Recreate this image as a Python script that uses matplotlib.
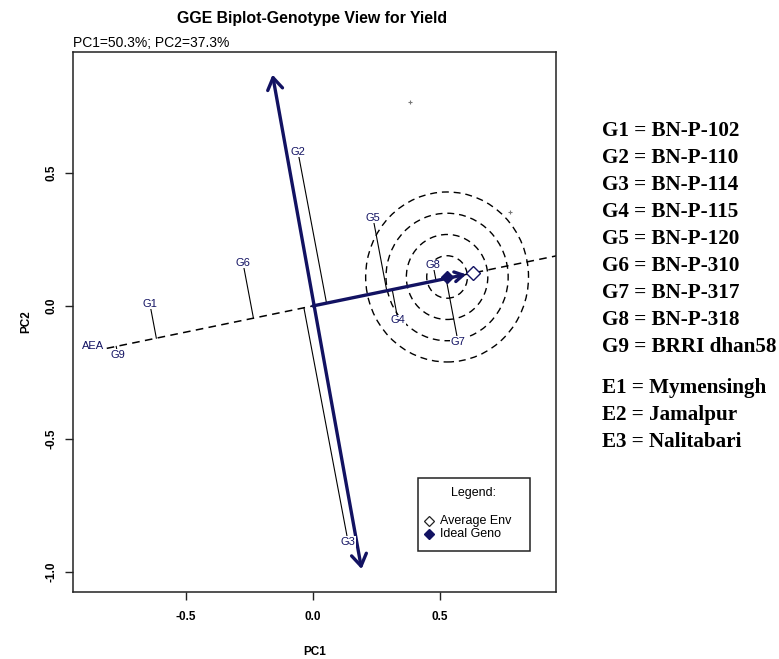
import matplotlib.pyplot as plt
import numpy as np
from matplotlib.patches import Ellipse, Rectangle

# genotype scores (PC1, PC2)
geno_names = ['G1', 'G2', 'G3', 'G4', 'G5', 'G6', 'G7', 'G8', 'G9']
geno_pc1 = [-0.641, -0.059, 0.138, 0.334, 0.236, -0.275, 0.570, 0.472, -0.767]
geno_pc2 = [0.008, 0.580, -0.888, -0.053, 0.331, 0.162, -0.135, 0.154, -0.184]

# environment markers (only two visible)
env_pc1 = [0.381, 0.774]
env_pc2 = [0.768, 0.354]

avg_env = (0.629, 0.124)
ideal_geno = (0.527, 0.109)
circle_radii = [0.08, 0.16, 0.24, 0.32]
atc_top = (-0.161, 0.881)
atc_bottom = (0.193, -1.001)

legend_names = ['G1 = BN-P-102', 'G2 = BN-P-110', 'G3 = BN-P-114', 'G4 = BN-P-115',
                'G5 = BN-P-120', 'G6 = BN-P-310', 'G7 = BN-P-317', 'G8 = BN-P-318',
                'G9 = BRRI dhan58']
env_legend = ['E1 = Mymensingh', 'E2 = Jamalpur', 'E3 = Nalitabari']

navy = '#121262'
W, H = 779, 659

plt.rcParams['font.family'] = ['Liberation Sans', 'DejaVu Sans']
fig = plt.figure(figsize=(W / 100, H / 100), dpi=100)
ax = fig.add_axes([73 / W, 1 - 592 / H, (556 - 73) / W, (592 - 52) / H])
ax.set_xlim(-0.943, 0.955)
ax.set_ylim(-1.077, 0.956)

# average environment axis (dashed)
u = np.array(avg_env) / np.hypot(*avg_env)
t = np.array([-0.826, 1.2])
ax.plot(t * u[0], t * u[1], color='black', lw=1.1, ls=(0, (5, 3.5)), zorder=2)
ax.text(-0.826 * u[0] - 0.01, -0.826 * u[1] + 0.008, 'AEA', color=navy,
        fontsize=8, ha='right', va='center', zorder=5)

# concentric circles around ideal genotype
for r in circle_radii:
    ax.add_patch(Ellipse(ideal_geno, 2 * r, 2 * r, fill=False, ec='black',
                         lw=1.0, ls=(0, (5, 3.5)), zorder=2))

# projections of genotypes onto the AEA line
for name, x, y in zip(geno_names, geno_pc1, geno_pc2):
    d = x * u[0] + y * u[1]
    ax.plot([x, d * u[0]], [y, d * u[1]], color='black', lw=0.8, zorder=3)
    ax.text(x, y, name, color=navy, fontsize=8, ha='center', va='center', zorder=5,
            bbox=dict(fc='white', ec='none', pad=0.3))

# thick ATC double arrow
ax.annotate('', xy=atc_top, xytext=atc_bottom,
            arrowprops=dict(arrowstyle='<->,head_length=0.7,head_width=0.45',
                            color=navy, lw=2.4, mutation_scale=12), zorder=4)
# thick arrow toward the average environment
ax.annotate('', xy=avg_env, xytext=(0, 0),
            arrowprops=dict(arrowstyle='->,head_length=0.6,head_width=0.35',
                            color=navy, lw=2.4, mutation_scale=10, shrinkA=0, shrinkB=5),
            zorder=4)

ax.plot(*avg_env, marker='D', ms=7, mfc='white', mec=navy, mew=1.0, ls='none', zorder=6)
ax.plot(*ideal_geno, marker='D', ms=6, mfc=navy, mec=navy, ls='none', zorder=6)
ax.plot(env_pc1, env_pc2, marker='+', ms=3.5, color='#777777', mew=0.8, ls='none', zorder=3)

# legend box
ax.add_patch(Rectangle((0.714, 0.076), 0.232, 0.135, transform=ax.transAxes,
                       fc='white', ec='#222222', lw=1.1, zorder=7))
ax.text(0.83, 0.183, 'Legend:', transform=ax.transAxes, fontsize=9,
        ha='center', va='center', zorder=8)
ax.plot([0.738], [0.131], transform=ax.transAxes, marker='D', ms=5, mfc='white',
        mec='#222222', mew=0.9, zorder=8)
ax.text(0.76, 0.131, 'Average Env', transform=ax.transAxes, fontsize=9,
        va='center', zorder=8)
ax.plot([0.738], [0.107], transform=ax.transAxes, marker='D', ms=5, mfc=navy,
        mec=navy, zorder=8)
ax.text(0.76, 0.107, 'Ideal Geno', transform=ax.transAxes, fontsize=9,
        va='center', zorder=8)

# axes styling
for s in ax.spines.values():
    s.set_linewidth(1.1)
    s.set_color('#222222')
ax.set_xticks([-0.5, 0.0, 0.5])
ax.set_yticks([-1.0, -0.5, 0.0, 0.5])
ax.set_xticklabels(['-0.5', '0.0', '0.5'], fontsize=8.5, fontweight='bold')
ax.set_yticklabels(['-1.0', '-0.5', '0.0', '0.5'], fontsize=8.5, fontweight='bold',
                   rotation=90, va='center')
ax.tick_params(direction='out', length=6, width=1, color='#222222', pad=8)
ax.tick_params(axis='y', pad=5)
ax.set_xlabel('PC1', fontsize=8.5, fontweight='bold', labelpad=16)
ax.set_ylabel('PC2', fontsize=8.5, fontweight='bold', labelpad=10)

fig.text(312 / W, 1 - 18 / H, 'GGE Biplot-Genotype View for Yield', fontsize=11.4,
         fontweight='bold', ha='center', va='center')
fig.text(73 / W, 1 - 43 / H, 'PC1=50.3%; PC2=37.3%', fontsize=10,
         ha='left', va='center')

# genotype / environment key on the right
for i, s in enumerate(legend_names):
    fig.text(602 / W, 1 - (131 + 27 * i) / H, s, fontsize=15.2, fontweight='bold',
             family='Liberation Serif', ha='left', va='center')
for i, s in enumerate(env_legend):
    fig.text(602 / W, 1 - (388 + 27 * i) / H, s, fontsize=15.2, fontweight='bold',
             family='Liberation Serif', ha='left', va='center')

fig.savefig('out.png', dpi=100)
